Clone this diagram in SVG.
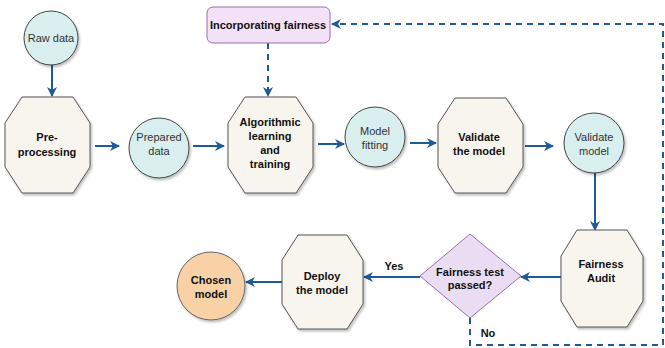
<svg xmlns="http://www.w3.org/2000/svg" width="665" height="348" viewBox="0 0 665 348">
<defs>
<marker id="ah" viewBox="0 0 10 10" refX="9" refY="5" markerWidth="10" markerHeight="10" markerUnits="userSpaceOnUse" orient="auto">
<path d="M0,0 L10,5 L0,10 L3,5 z" fill="#1f5a96"/>
</marker>
<filter id="sh" x="-10%" y="-10%" width="130%" height="130%">
<feDropShadow dx="1.5" dy="2" stdDeviation="1" flood-color="#000" flood-opacity="0.25"/>
</filter>
</defs>
<style>
.oct{fill:#f8f5ee;stroke:#555;stroke-width:1;filter:url(#sh)}
.cir{fill:#d9eeee;stroke:#444;stroke-width:1;filter:url(#sh)}
.b{font-family:"Liberation Sans",Arial,sans-serif;font-size:11px;font-weight:bold;fill:#111;text-anchor:middle}
.n{font-family:"Liberation Sans",Arial,sans-serif;font-size:11px;fill:#333;text-anchor:middle}
.c{stroke:#1f5a96;stroke-width:2;fill:none}
.d{stroke:#1f5a96;stroke-width:2;fill:none;stroke-dasharray:6,5}
</style>
<rect width="665" height="348" fill="#fff"/>
<g id="connectors">
<line class="c" x1="52" y1="65" x2="52" y2="96" marker-end="url(#ah)"/>
<line class="c" x1="95" y1="146" x2="119" y2="146" marker-end="url(#ah)"/>
<line class="c" x1="193" y1="146" x2="224" y2="146" marker-end="url(#ah)"/>
<line class="c" x1="318" y1="144" x2="344" y2="144" marker-end="url(#ah)"/>
<line class="c" x1="410" y1="143" x2="436" y2="143" marker-end="url(#ah)"/>
<line class="c" x1="525" y1="146" x2="553" y2="146" marker-end="url(#ah)"/>
<line class="c" x1="595" y1="173" x2="595" y2="230" marker-end="url(#ah)"/>
<line class="c" x1="561" y1="277" x2="521" y2="277" marker-end="url(#ah)"/>
<line class="c" x1="420" y1="277" x2="364" y2="277" marker-end="url(#ah)"/>
<line class="c" x1="282" y1="282" x2="246" y2="282" marker-end="url(#ah)"/>
<line class="d" x1="268" y1="43" x2="268" y2="96" marker-end="url(#ah)"/>
<polyline class="d" points="470,318 470,345 663,345 663,24 332,24" marker-end="url(#ah)"/>
<text class="b" x="394" y="270">Yes</text>
<text class="b" x="488" y="337">No</text>
</g>
<g id="raw-data">
<circle class="cir" cx="51" cy="38" r="27"/>
<text class="n" x="51" y="42">Raw data</text>
</g>
<g id="pre-processing">
<polygon class="oct" points="22,97 73,97 90,123 90,167 73,193 22,193 5,167 5,123"/>
<text class="b" x="47" y="141">Pre-</text>
<text class="b" x="47" y="156">processing</text>
</g>
<g id="prepared-data">
<circle class="cir" cx="159" cy="148" r="30"/>
<text class="n" x="159" y="141">Prepared</text>
<text class="n" x="159" y="155">data</text>
</g>
<g id="incorporating-fairness">
<rect x="207" y="7" width="123" height="36" rx="6" fill="#f3e2f7" stroke="#9a6fb0" stroke-width="1"/>
<text class="b" x="268" y="29">Incorporating fairness</text>
</g>
<g id="algorithmic">
<polygon class="oct" points="245,97 296,97 313,123 313,167 296,193 245,193 228,167 228,123"/>
<text class="b" x="270" y="126">Algorithmic</text>
<text class="b" x="270" y="140">learning</text>
<text class="b" x="270" y="154">and</text>
<text class="b" x="270" y="168">training</text>
</g>
<g id="model-fitting">
<circle class="cir" cx="375" cy="137" r="30"/>
<text class="n" x="375" y="135">Model</text>
<text class="n" x="375" y="149">fitting</text>
</g>
<g id="validate-the-model">
<polygon class="oct" points="455,98 506,98 523,124 523,167 506,193 455,193 438,167 438,124"/>
<text class="b" x="479" y="141">Validate</text>
<text class="b" x="479" y="155">the model</text>
</g>
<g id="validate-model">
<circle class="cir" cx="594" cy="143" r="30"/>
<text class="n" x="594" y="141">Validate</text>
<text class="n" x="594" y="155">model</text>
</g>
<g id="fairness-audit">
<polygon class="oct" points="577,230 627,230 643,256 643,301 627,327 577,327 561,301 561,256"/>
<text class="b" x="601" y="268">Fairness</text>
<text class="b" x="601" y="282">Audit</text>
</g>
<g id="fairness-test">
<polygon points="470,234 521,276 470,318 420,276" fill="#e9dcf3" stroke="#9a6fb0" stroke-width="1"/>
<text class="b" x="470" y="276">Fairness test</text>
<text class="b" x="470" y="289">passed?</text>
</g>
<g id="deploy">
<polygon class="oct" points="298,235 347,235 363,260 363,304 347,329 298,329 282,304 282,260"/>
<text class="b" x="322" y="280">Deploy</text>
<text class="b" x="322" y="294">the model</text>
</g>
<g id="chosen-model">
<circle cx="211" cy="286" r="34" fill="#f8d1a6" stroke="#666" stroke-width="1" filter="url(#sh)"/>
<text class="b" x="211" y="284">Chosen</text>
<text class="b" x="211" y="298">model</text>
</g>
</svg>
